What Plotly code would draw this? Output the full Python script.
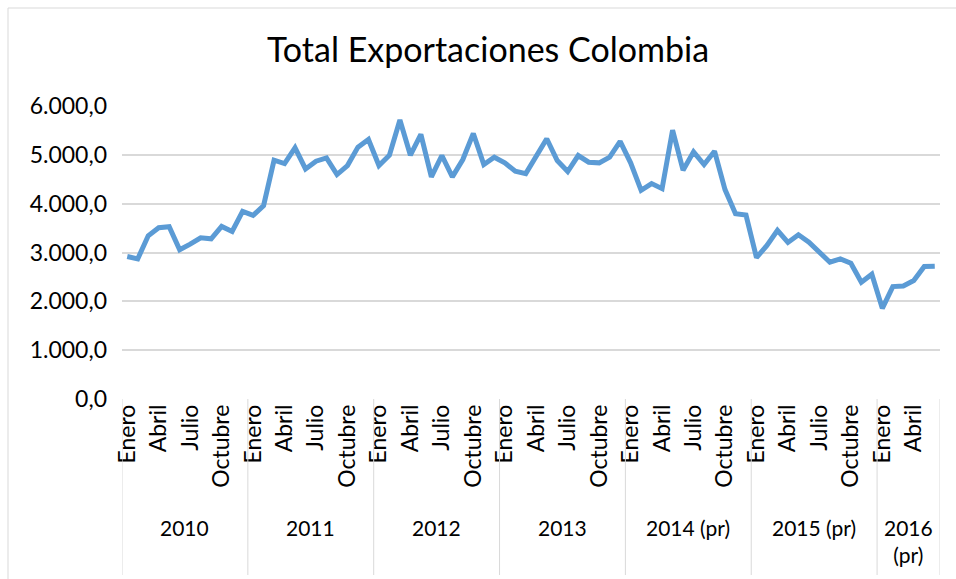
import plotly.graph_objects as go

years = ["2010", "2011", "2012", "2013", "2014 (pr)", "2015 (pr)", "2016<br>(pr)"]
months_per_year = [12, 12, 12, 12, 12, 12, 6]
month_labels = ["Enero", "Abril", "Julio", "Octubre"]
month_label_offsets = [0, 3, 6, 9]

exports = [
    2918, 2870, 3342, 3507, 3527, 3055, 3171, 3301, 3281, 3534, 3432, 3842,
    3760, 3959, 4890, 4822, 5144, 4712, 4870, 4938, 4596, 4781, 5158, 5315,
    4781, 4993, 5712, 4993, 5418, 4548, 4986, 4548, 4904, 5438, 4801, 4952,
    4836, 4664, 4616, 4973, 5329, 4884, 4658, 4986, 4849, 4836, 4952, 5275,
    4836, 4274, 4411, 4308, 5507, 4685, 5062, 4801, 5075, 4288, 3795, 3767,
    2897, 3144, 3452, 3205, 3363, 3212, 3014, 2801, 2870, 2781, 2390, 2555,
    1856, 2301, 2315, 2425, 2712, 2719,
]

FONT = "Lato"
W, H = 956, 579
L, R, T, B = 122, 16, 106, 180
pw, ph = W - L - R, H - T - B

x = list(range(len(exports)))

tickvals, ticktext = [], []
start = 0
bounds = [-0.5]
centers = []
for n in months_per_year:
    for off, lab in zip(month_label_offsets, month_labels):
        if off < n:
            tickvals.append(start + off)
            ticktext.append(lab)
    centers.append(start + (n - 1) / 2)
    start += n
    bounds.append(start - 0.5)

fig = go.Figure()
fig.add_trace(go.Scatter(
    x=x, y=exports, mode="lines",
    line=dict(color="#5b9bd5", width=5),
    hoverinfo="skip",
))

shapes = []
for b in bounds:
    shapes.append(dict(type="line", xref="x", yref="paper",
                       x0=b, x1=b, y0=0, y1=-(575 - 399) / ph,
                       line=dict(color="#d9d9d9", width=1)))
# outer chart border (left and top visible)
bx = (8 - L) / pw
by = (H - B - 8) / ph
shapes.append(dict(type="line", xref="paper", yref="paper", x0=bx, x1=bx,
                   y0=by, y1=-(H - B + 10) / ph, line=dict(color="#d9d9d9", width=1)))
shapes.append(dict(type="line", xref="paper", yref="paper", x0=bx, x1=(W + 10 - L) / pw,
                   y0=by, y1=by, line=dict(color="#d9d9d9", width=1)))

annotations = []
for yr, c in zip(years, centers):
    annotations.append(dict(
        x=c, xref="x", y=-(513 - 399) / ph, yref="paper",
        text=yr, showarrow=False, yanchor="top", xanchor="center",
        font=dict(family=FONT, size=21, color="#000000"),
    ))

fig.update_layout(
    width=W, height=H,
    margin=dict(l=L, r=R, t=T, b=B),
    paper_bgcolor="white", plot_bgcolor="white",
    separators=",.",
    showlegend=False,
    title=dict(text="Total Exportaciones Colombia", x=(488) / W, xanchor="center",
               y=1 - 50 / H, yanchor="middle",
               font=dict(family=FONT, size=34, color="#000000")),
    xaxis=dict(
        range=[-0.5, len(exports) - 0.5],
        tickmode="array", tickvals=tickvals, ticktext=ticktext,
        tickangle=-90, ticks="", showgrid=False, zeroline=False,
        showline=False,
        tickfont=dict(family=FONT, size=23, color="#000000"),
    ),
    yaxis=dict(
        range=[0, 6000], tickvals=[0, 1000, 2000, 3000, 4000, 5000, 6000],
        tickformat=",.1f", showgrid=True, gridcolor="#d9d9d9", gridwidth=1.5,
        zeroline=False, showline=False, ticks="", ticklen=0,
        ticklabelstandoff=14,
        tickfont=dict(family=FONT, size=23, color="#000000"),
    ),
    shapes=shapes,
    annotations=annotations,
)

fig.write_html("out.html")
